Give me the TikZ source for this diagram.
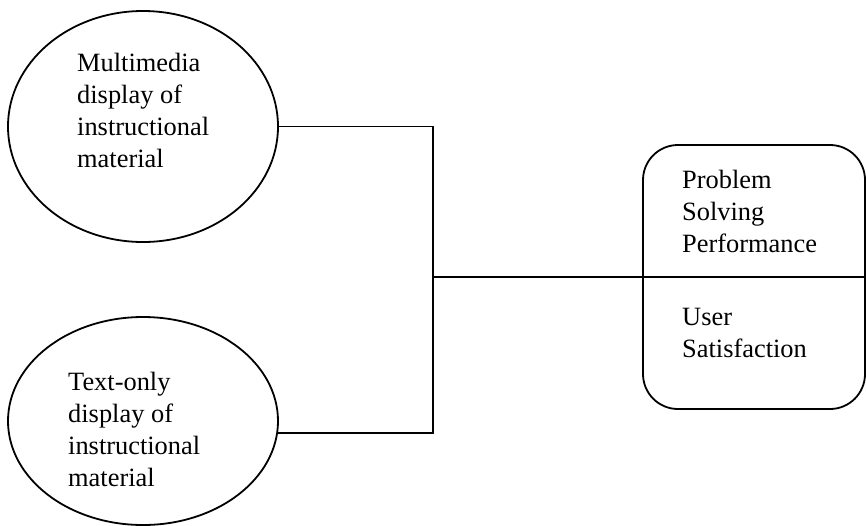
\documentclass[tikz,border=0pt]{standalone}
\usepackage{fontspec}
\setmainfont{Liberation Serif}
\usetikzlibrary{shapes.geometric}
\begin{document}
\begin{tikzpicture}[
      x=1pt, y=-1pt,
      factor/.style={ellipse, draw, line width=1.8pt, minimum width=270pt,
      minimum height=231pt, inner sep=0pt},
      outcome/.style={draw, line width=1.8pt, rounded corners=35pt,
      minimum width=222pt, minimum height=264pt, inner sep=0pt},
      txt/.style={anchor=north west, align=left, inner sep=0pt,
      font=\fontsize{26.4}{32}\selectfont},
      link/.style={line width=1.8pt},
    ]
    \useasboundingbox (0,0) rectangle (866,525);
    \node[factor] (multi) at (143,126.5) {};
    \node[factor, minimum height=208pt] (textonly) at (143,421) {};
    \node[outcome] (result) at (754,277) {};
    \node[txt] (multitxt) at (77,53) {Multimedia\\display of\\instructional\\material};
    \node[txt] (texttxt) at (68,372) {Text-only\\display of\\instructional\\material};
    \node[txt] (perf) at (682,170) {Problem\\Solving\\Performance};
    \node[txt] (satis) at (682,308) {User\\Satisfaction};
    \coordinate (join) at (433,277);
    \draw[link] (multi.east) -- (multi.east -| join) -- (textonly.-5 -| join)
      -- (textonly.-5);
    \draw[link] (join) -- (result.east);
\end{tikzpicture}
\end{document}
